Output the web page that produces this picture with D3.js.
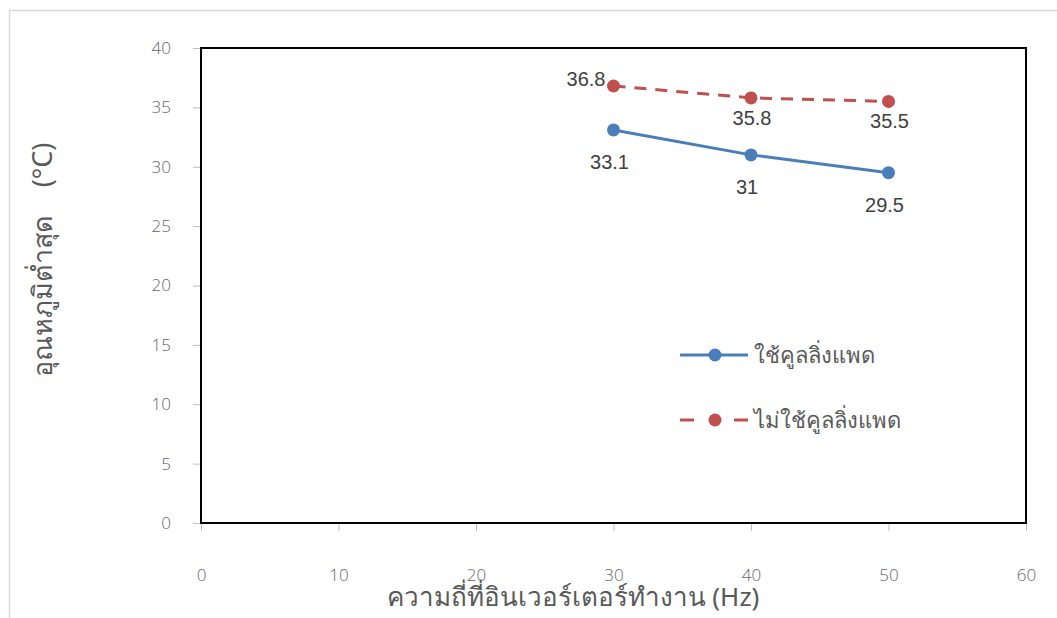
<!DOCTYPE html>
<html>
<head>
<meta charset="utf-8">
<script src="https://cdn.jsdelivr.net/npm/d3@7"></script>
<style>
  html, body { margin: 0; padding: 0; background: #fff; }
  svg { display: block; }
  text { font-family: "Noto Sans", "DejaVu Sans", "Liberation Sans", sans-serif; }
</style>
</head>
<body>
<svg id="chart" width="1057" height="618"></svg>
<script>
// Frequencies (Hz) and minimum temperatures (°C)
const frequencies = [30, 40, 50];
const withPad = [33.1, 31, 29.5];
const withoutPad = [36.8, 35.8, 35.5];
const seriesNames = ["ใช้คูลลิ่งแพด", "ไม่ใช้คูลลิ่งแพด"];
const xTicks = [0, 10, 20, 30, 40, 50, 60];
const yTicks = [0, 5, 10, 15, 20, 25, 30, 35, 40];
const xTitle = "ความถี่ที่อินเวอร์เตอร์ทำงาน (Hz)";
const yTitle = "อุณหภูมิต่ำสุด    (°C)";

const svg = d3.select("#chart");
const plot = { left: 201, right: 1026, top: 48, bottom: 523 };

const x = d3.scaleLinear().domain([0, 60]).range([plot.left, plot.right]);
const y = d3.scaleLinear().domain([0, 40]).range([plot.bottom, plot.top]);

// outer frame
svg.append("rect")
  .attr("x", 9.5).attr("y", 10.5)
  .attr("width", 1060).attr("height", 620)
  .attr("fill", "none").attr("stroke", "#d9d9d9").attr("stroke-width", 1.5);

const tickFont = "'Open Sans', 'DejaVu Sans', sans-serif";

// y axis ticks and labels
const yAxis = d3.axisLeft(y).tickValues(yTicks).tickSize(8).tickPadding(22);
const gy = svg.append("g").attr("transform", `translate(${plot.left},0)`).call(yAxis);
gy.select(".domain").remove();
gy.selectAll(".tick line").attr("stroke", "#bfbfbf");
gy.selectAll(".tick text")
  .attr("fill", "#666").style("font-size", "17px")
  .style("font-family", tickFont).style("font-weight", "300");

// x axis ticks and labels
const xAxis = d3.axisBottom(x).tickValues(xTicks).tickSize(8).tickPadding(38);
const gx = svg.append("g").attr("transform", `translate(0,${plot.bottom})`).call(xAxis);
gx.select(".domain").remove();
gx.selectAll(".tick line").attr("stroke", "#bfbfbf");
gx.selectAll(".tick text")
  .attr("fill", "#666").style("font-size", "17px")
  .style("font-family", tickFont).style("font-weight", "300");

// plot area border
svg.append("rect")
  .attr("x", plot.left).attr("y", plot.top)
  .attr("width", plot.right - plot.left).attr("height", plot.bottom - plot.top)
  .attr("fill", "none").attr("stroke", "#000").attr("stroke-width", 2);

const line = d3.line().x((d, i) => x(frequencies[i])).y(d => y(d));

const series = [
  { name: seriesNames[0], values: withPad, color: "#4a7ebb", dash: null },
  { name: seriesNames[1], values: withoutPad, color: "#c0504d", dash: "12,9" }
];

series.forEach(s => {
  svg.append("path").datum(s.values)
    .attr("d", line).attr("fill", "none")
    .attr("stroke", s.color).attr("stroke-width", 3)
    .attr("stroke-dasharray", s.dash);
  svg.selectAll(null).data(s.values).enter().append("circle")
    .attr("cx", (d, i) => x(frequencies[i])).attr("cy", d => y(d))
    .attr("r", 6.5).attr("fill", s.color);
});

// data labels
const labelStyle = sel => sel.attr("fill", "#404040").style("font-size", "20px")
  .style("font-family", "'Liberation Sans', Arial, sans-serif");

svg.selectAll(null).data(withPad).enter().append("text")
  .attr("x", (d, i) => x(frequencies[i]) - 4)
  .attr("y", d => y(d) + 39)
  .attr("text-anchor", "middle").text(d => d).call(labelStyle);

svg.selectAll(null).data(withoutPad).enter().append("text")
  .attr("x", (d, i) => i === 0 ? x(frequencies[i]) - 8 : x(frequencies[i]) + 1)
  .attr("y", (d, i) => i === 0 ? y(d) : y(d) + 27)
  .attr("text-anchor", (d, i) => i === 0 ? "end" : "middle")
  .text(d => d).call(labelStyle);

// legend
const legend = svg.append("g").attr("transform", "translate(680,355)");
series.forEach((s, i) => {
  const g = legend.append("g").attr("transform", `translate(0,${i * 65})`);
  g.append("line").attr("x1", 0).attr("x2", 68).attr("y1", 0).attr("y2", 0)
    .attr("stroke", s.color).attr("stroke-width", 3)
    .attr("stroke-dasharray", s.dash ? "14,40,14" : null);
  g.append("circle").attr("cx", 35).attr("cy", 0).attr("r", 6.5).attr("fill", s.color);
  g.append("text").attr("x", 74).attr("y", 8)
    .attr("fill", "#595959").style("font-size", "22px").text(s.name);
});

// axis titles
svg.append("text")
  .attr("x", 573).attr("y", 606).attr("text-anchor", "middle")
  .attr("fill", "#595959").style("font-size", "26px")
  .text(xTitle);

svg.append("text")
  .attr("transform", "translate(52,260) rotate(-90)")
  .attr("text-anchor", "middle")
  .attr("fill", "#595959").style("font-size", "27px")
  .style("white-space", "pre").text(yTitle);
</script>
</body>
</html>
